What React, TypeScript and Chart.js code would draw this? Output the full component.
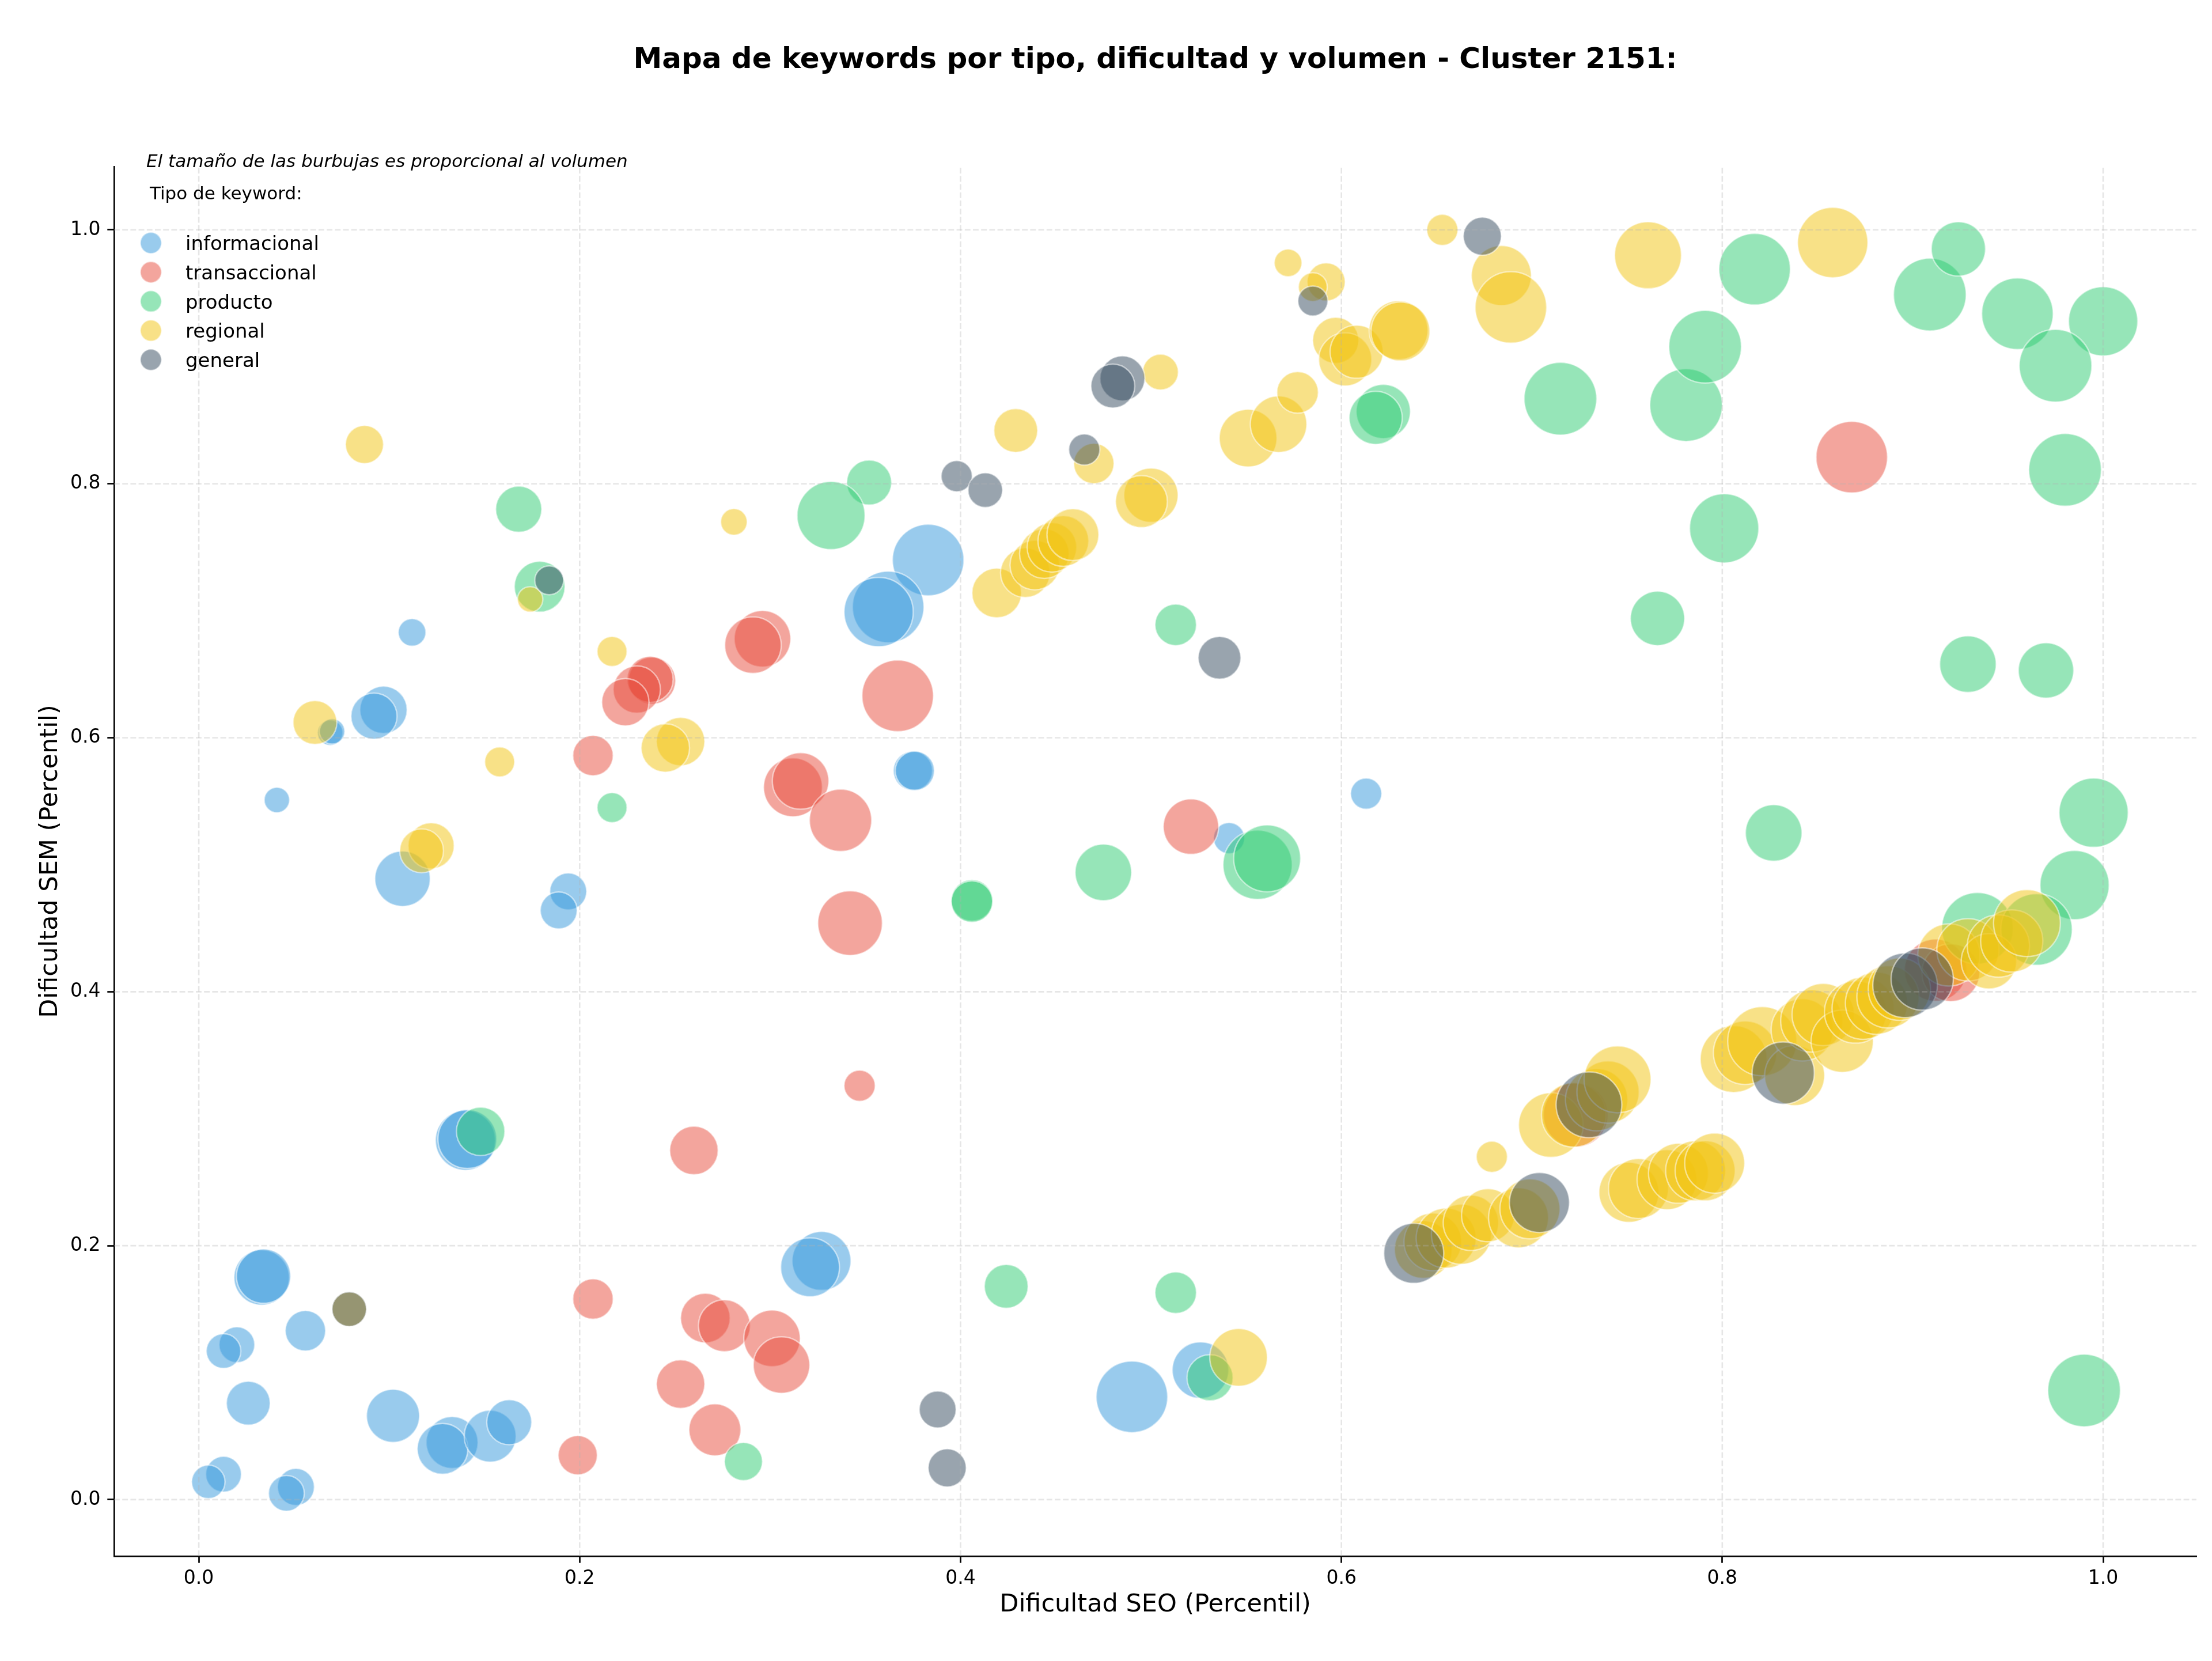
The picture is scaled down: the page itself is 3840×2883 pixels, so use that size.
import React, { useEffect, useRef } from 'react';
import { Chart, registerables } from 'chart.js';

Chart.register(...registerables);

const W = 3840;
const H = 2883;
const FONT = "'DejaVu Sans', 'Liberation Sans', sans-serif";

const chartTitle = 'Mapa de keywords por tipo, dificultad y volumen - Cluster 2151:';
const subtitleText = 'El tamaño de las burbujas es proporcional al volumen';
const legendTitle = 'Tipo de keyword:';
const xAxisTitle = 'Dificultad SEO (Percentil)';
const yAxisTitle = 'Dificultad SEM (Percentil)';

const categories = ['informacional', 'transaccional', 'producto', 'regional', 'general'];
const categoryColors = ['#3498db', '#e74c3c', '#2ecc71', '#f1c40f', '#34495e'];

const xTicks = [0, 0.2, 0.4, 0.6, 0.8, 1.0];
const xTickLabels = ['0.0', '0.2', '0.4', '0.6', '0.8', '1.0'];
const yTicks = [0, 0.2, 0.4, 0.6, 0.8, 1.0];
const yTickLabels = ['0.0', '0.2', '0.4', '0.6', '0.8', '1.0'];

// informacional
const infoSeo = [0.112, 0.097, 0.092, 0.069, 0.070, 0.041, 0.107, 0.194, 0.189, 0.140, 0.141, 0.033, 0.034, 0.056, 0.020, 0.013, 0.026, 0.102, 0.133, 0.128, 0.153, 0.163, 0.013, 0.005, 0.051, 0.046, 0.327, 0.321, 0.383, 0.362, 0.357, 0.375, 0.376, 0.490, 0.526, 0.541, 0.613];
const infoSem = [0.683, 0.622, 0.617, 0.604, 0.605, 0.551, 0.489, 0.479, 0.464, 0.283, 0.284, 0.175, 0.176, 0.133, 0.122, 0.117, 0.076, 0.066, 0.045, 0.040, 0.050, 0.061, 0.020, 0.014, 0.010, 0.005, 0.188, 0.183, 0.740, 0.703, 0.699, 0.574, 0.574, 0.081, 0.102, 0.521, 0.556];
const infoVol = [2300, 6720, 6400, 1940, 1940, 1940, 9220, 4100, 4100, 10820, 10400, 9220, 8840, 4900, 3840, 3600, 5780, 8460, 8100, 7740, 8100, 6080, 3840, 3360, 4100, 3840, 10400, 10400, 15380, 15380, 14400, 4620, 4620, 15380, 9600, 2920, 2920];

// transaccional
const transSeo = [0.238, 0.237, 0.230, 0.224, 0.296, 0.291, 0.207, 0.312, 0.316, 0.367, 0.337, 0.521, 0.342, 0.347, 0.260, 0.207, 0.199, 0.266, 0.276, 0.301, 0.306, 0.253, 0.271, 0.868, 0.723, 0.912, 0.920];
const transSem = [0.645, 0.646, 0.638, 0.628, 0.678, 0.673, 0.586, 0.561, 0.566, 0.633, 0.535, 0.530, 0.454, 0.326, 0.275, 0.158, 0.035, 0.143, 0.137, 0.127, 0.106, 0.091, 0.055, 0.821, 0.303, 0.417, 0.415];
const transVol = [6720, 6400, 6720, 6720, 9600, 9600, 4900, 10400, 9600, 15380, 11660, 9220, 12540, 2920, 7060, 4900, 4620, 7400, 8100, 9600, 9600, 7060, 8100, 15380, 12540, 11660, 10000];

// producto
const prodSeo = [0.168, 0.179, 0.217, 0.148, 0.286, 0.352, 0.332, 0.406, 0.406, 0.475, 0.513, 0.424, 0.513, 0.531, 0.556, 0.561, 0.622, 0.618, 0.715, 0.781, 0.791, 0.817, 0.909, 0.924, 0.955, 1.000, 0.975, 0.980, 0.801, 0.766, 0.929, 0.970, 0.827, 0.995, 0.985, 0.934, 0.965, 0.990];
const prodSem = [0.780, 0.719, 0.545, 0.290, 0.030, 0.801, 0.775, 0.472, 0.471, 0.494, 0.689, 0.168, 0.163, 0.096, 0.500, 0.505, 0.857, 0.852, 0.867, 0.862, 0.908, 0.969, 0.949, 0.985, 0.934, 0.928, 0.893, 0.811, 0.765, 0.694, 0.658, 0.653, 0.525, 0.541, 0.484, 0.450, 0.449, 0.086];
const prodVol = [6400, 7740, 2700, 7060, 4360, 6080, 13920, 5180, 5180, 9600, 5180, 5780, 5180, 6400, 14400, 13460, 8840, 8460, 15880, 15880, 15880, 15380, 15880, 8840, 15380, 14400, 15880, 15880, 14400, 8840, 9600, 9220, 9600, 14400, 14400, 15380, 15380, 15880];

// regional
const regSeo = [0.087, 0.174, 0.217, 0.061, 0.158, 0.253, 0.245, 0.122, 0.117, 0.281, 0.419, 0.434, 0.439, 0.444, 0.448, 0.454, 0.459, 0.429, 0.470, 0.500, 0.495, 0.505, 0.551, 0.567, 0.577, 0.572, 0.592, 0.585, 0.597, 0.602, 0.608, 0.630, 0.631, 0.653, 0.684, 0.689, 0.761, 0.858, 0.546, 0.079, 0.679, 0.643, 0.648, 0.655, 0.663, 0.668, 0.677, 0.693, 0.699, 0.751, 0.756, 0.771, 0.777, 0.786, 0.791, 0.796, 0.710, 0.722, 0.734, 0.740, 0.745, 0.806, 0.812, 0.821, 0.838, 0.842, 0.847, 0.853, 0.863, 0.870, 0.874, 0.881, 0.887, 0.893, 0.919, 0.929, 0.940, 0.945, 0.952, 0.960];
const regSem = [0.831, 0.709, 0.668, 0.612, 0.581, 0.597, 0.592, 0.515, 0.511, 0.770, 0.714, 0.730, 0.736, 0.745, 0.750, 0.755, 0.760, 0.842, 0.816, 0.791, 0.786, 0.888, 0.836, 0.847, 0.872, 0.974, 0.959, 0.955, 0.913, 0.898, 0.904, 0.921, 0.920, 1.000, 0.964, 0.939, 0.980, 0.990, 0.112, 0.150, 0.270, 0.197, 0.203, 0.206, 0.209, 0.218, 0.224, 0.222, 0.229, 0.242, 0.245, 0.252, 0.257, 0.259, 0.259, 0.265, 0.295, 0.303, 0.315, 0.321, 0.331, 0.347, 0.352, 0.361, 0.334, 0.370, 0.377, 0.382, 0.361, 0.384, 0.387, 0.391, 0.396, 0.402, 0.429, 0.433, 0.424, 0.436, 0.440, 0.454];
const regVol = [4360, 1940, 2700, 5780, 2700, 7060, 7060, 6400, 5780, 2120, 7400, 7400, 7400, 7400, 7400, 7740, 8100, 5780, 4900, 8840, 8100, 3840, 10000, 9600, 5180, 2300, 4360, 2500, 6400, 8460, 8460, 10400, 10400, 2920, 10820, 15380, 13460, 14880, 10000, 3600, 2920, 10000, 10000, 10820, 10820, 9220, 8460, 10820, 10820, 10820, 10820, 10820, 10820, 10820, 10820, 10820, 12540, 12540, 11660, 11660, 13460, 13460, 12100, 14400, 10820, 11660, 11660, 11660, 11660, 11660, 11660, 11660, 11660, 11660, 11660, 11660, 9220, 11660, 11660, 13460];

// general
const genSeo = [0.184, 0.079, 0.398, 0.413, 0.465, 0.485, 0.480, 0.536, 0.585, 0.674, 0.388, 0.393, 0.638, 0.704, 0.730, 0.832, 0.896, 0.905];
const genSem = [0.724, 0.150, 0.806, 0.795, 0.827, 0.883, 0.877, 0.663, 0.944, 0.995, 0.071, 0.025, 0.194, 0.234, 0.311, 0.336, 0.405, 0.410];
const genVol = [2500, 3600, 2920, 3600, 2920, 6080, 5780, 5480, 2700, 4360, 4100, 4360, 10820, 10820, 13000, 11660, 12540, 11660];

const seoSeries = [infoSeo, transSeo, prodSeo, regSeo, genSeo];
const semSeries = [infoSem, transSem, prodSem, regSem, genSem];
const volSeries = [infoVol, transVol, prodVol, regVol, genVol];

function rgba(hex: string, a: number) {
  const n = parseInt(hex.slice(1), 16);
  return `rgba(${(n >> 16) & 255},${(n >> 8) & 255},${n & 255},${a})`;
}

const ALPHA = 0.5;
const EDGE = 'rgba(255,255,255,0.5)';
const volToRadius = (v: number) => Math.sqrt(v) / 2;

const gridOverPlugin = {
  id: 'gridOver',
  afterDatasetsDraw(chart: any) {
    const { ctx, chartArea: a, scales } = chart;
    const xs = scales.x;
    const ys = scales.y;
    ctx.save();
    ctx.beginPath();
    ctx.rect(a.left, a.top, a.right - a.left, a.bottom - a.top);
    ctx.clip();
    ctx.strokeStyle = 'rgba(176,176,176,0.32)';
    ctx.lineWidth = 2.6;
    ctx.setLineDash([9.9, 4.3]);
    xTicks.forEach((v) => {
      const px = xs.getPixelForValue(v);
      ctx.beginPath();
      ctx.moveTo(px, a.bottom);
      ctx.lineTo(px, a.top);
      ctx.stroke();
    });
    yTicks.forEach((v) => {
      const py = ys.getPixelForValue(v);
      ctx.beginPath();
      ctx.moveTo(a.left, py);
      ctx.lineTo(a.right, py);
      ctx.stroke();
    });
    ctx.restore();
  },
};

const annotationsPlugin = {
  id: 'annotations',
  beforeDraw(chart: any) {
    const { ctx } = chart;
    ctx.save();
    ctx.fillStyle = '#ffffff';
    ctx.fillRect(0, 0, chart.width, chart.height);
    ctx.restore();
  },
  afterDraw(chart: any) {
    const { ctx, chartArea: a } = chart;
    ctx.save();
    ctx.fillStyle = '#000';
    ctx.textBaseline = 'alphabetic';
    // title centered over axes
    ctx.font = `bold 50px ${FONT}`;
    ctx.textAlign = 'center';
    ctx.fillText(chartTitle, (a.left + a.right) / 2, 118);
    // subtitle
    ctx.font = `italic 31px ${FONT}`;
    ctx.textAlign = 'left';
    ctx.fillText(subtitleText, 254, 290);
    // legend title
    ctx.font = `31px ${FONT}`;
    ctx.fillText(legendTitle, 260, 346);
    // legend entries
    categories.forEach((c, i) => {
      const cy = 421.7 + i * 50.7;
      ctx.beginPath();
      ctx.arc(262, cy, 18.5, 0, Math.PI * 2);
      ctx.fillStyle = rgba(categoryColors[i], ALPHA);
      ctx.fill();
      ctx.lineWidth = 2.5;
      ctx.strokeStyle = EDGE;
      ctx.stroke();
      ctx.fillStyle = '#000';
      ctx.font = `34px ${FONT}`;
      ctx.fillText(c, 322, cy + 12.5);
    });
    ctx.restore();
  },
};

export default function App() {
  const ref = useRef<HTMLCanvasElement>(null);

  useEffect(() => {
    if (!ref.current) return;
    const datasets = categories.map((c, i) => ({
      label: c,
      data: seoSeries[i].map((x, j) => ({ x, y: semSeries[i][j], r: volToRadius(volSeries[i][j]) })),
      backgroundColor: rgba(categoryColors[i], ALPHA),
      borderColor: EDGE,
      borderWidth: 2.5,
      hoverBorderWidth: 2.5,
      order: categories.length - 1 - i,
      clip: 0,
    }));

    const tickFont = { family: FONT, size: 33 };
    const titleFont = { family: FONT, size: 43 };

    const chart = new Chart(ref.current, {
      type: 'bubble',
      data: { datasets } as any,
      options: {
        responsive: false,
        animation: false,
        devicePixelRatio: 1,
        events: [],
        layout: { autoPadding: false, padding: { left: 48, right: 27, top: 289, bottom: 32 } },
        plugins: {
          legend: { display: false },
          title: { display: false },
          tooltip: { enabled: false },
        },
        scales: {
          x: {
            type: 'linear',
            position: 'bottom',
            min: -0.0445,
            max: 1.049,
            afterBuildTicks: (s: any) => {
              s.ticks = xTicks.map((v) => ({ value: v }));
            },
            afterFit: (s: any) => {
              s.height = 150;
            },
            ticks: {
              callback: (_v: any, i: number) => xTickLabels[i],
              font: tickFont,
              color: '#000',
              padding: 8,
              maxRotation: 0,
              autoSkip: false,
            },
            grid: {
              drawOnChartArea: false,
              drawTicks: true,
              tickLength: 11.7,
              tickWidth: 2.7,
              tickColor: '#000',
            },
            border: { display: true, color: '#000', width: 2.7 },
            title: {
              display: true,
              text: xAxisTitle,
              font: titleFont,
              color: '#000',
              padding: { top: 0, bottom: 39 },
            },
          },
          y: {
            type: 'linear',
            position: 'left',
            min: -0.0445,
            max: 1.0499,
            afterBuildTicks: (s: any) => {
              s.ticks = yTicks.map((v) => ({ value: v }));
            },
            afterFit: (s: any) => {
              s.width = 150;
            },
            ticks: {
              callback: (_v: any, i: number) => yTickLabels[i],
              font: tickFont,
              color: '#000',
              padding: 11.7,
              autoSkip: false,
            },
            grid: {
              drawOnChartArea: false,
              drawTicks: true,
              tickLength: 11.7,
              tickWidth: 2.7,
              tickColor: '#000',
            },
            border: { display: true, color: '#000', width: 2.7 },
            title: {
              display: true,
              text: yAxisTitle,
              font: titleFont,
              color: '#000',
              padding: { top: 14, bottom: 0 },
            },
          },
        },
      } as any,
      plugins: [annotationsPlugin, gridOverPlugin],
    });

    return () => chart.destroy();
  }, []);

  return (
    <div style={{ position: 'fixed', left: 0, top: 0, width: W, height: H, background: '#fff' }}>
      <canvas ref={ref} width={W} height={H} style={{ display: 'block', width: W, height: H }} />
    </div>
  );
}
